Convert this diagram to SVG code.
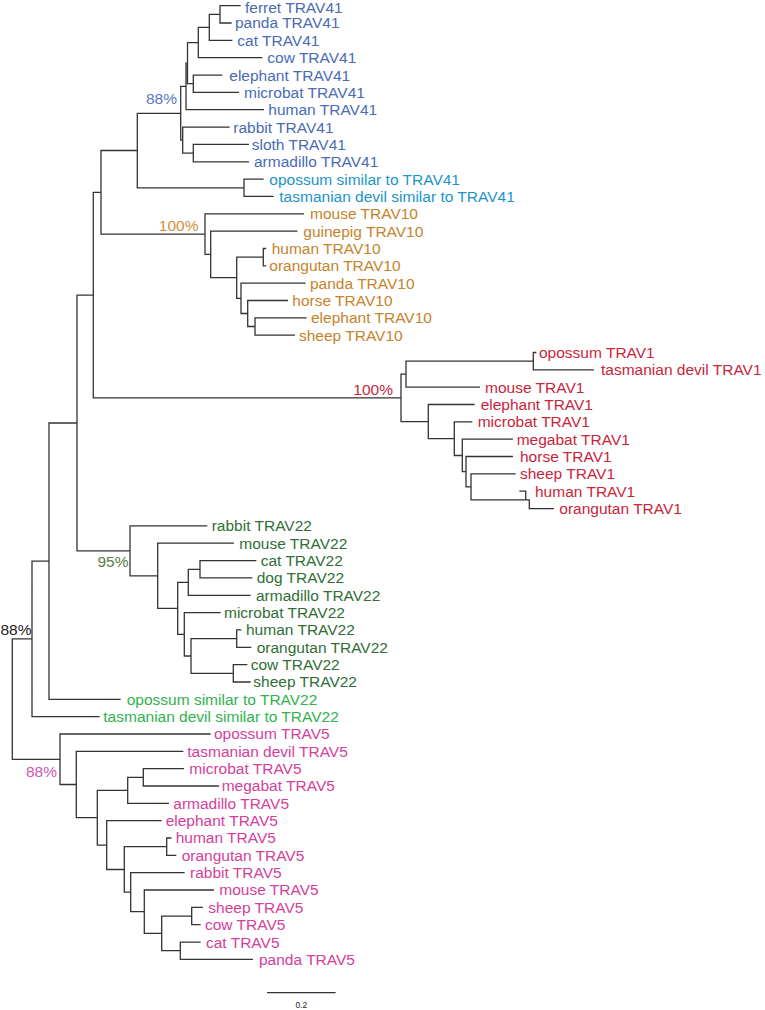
<svg xmlns="http://www.w3.org/2000/svg" width="765" height="1010" viewBox="0 0 765 1010">
<style>
text{font-family:"Liberation Sans",Arial,Helvetica,sans-serif;font-size:15.5px}
.b{fill:none;stroke:#333;stroke-width:1.3;stroke-linecap:square}
.t41{fill:#4a6bb5}.s41{fill:#1b95c9}.t10{fill:#c5832c}.t1{fill:#c9253a}
.t22{fill:#2f6e36}.s22{fill:#2fb34e}.t5{fill:#d4409a}
.bs{font-size:11.5px;text-anchor:end}
</style>
<rect width="765" height="1010" fill="#fff"/>
<g id="connectors">
<path class="b" d="
M12.3 638.9V759.3 M12.3 638.9H32 M12.3 759.3H60
M32 561.1V716.6 M32 561.1H49 M32 716.6H99
M49 423V699.3 M49 423H77 M49 699.3H120
M77 295.1V550.8 M77 295.1H93.3 M77 550.8H130
M93.3 192.3V397.9 M93.3 192.3H101 M93.3 397.9H401
M101 150.5V234.1 M101 150.5H137.3 M101 234.1H205
M137.3 113.3V187.8 M137.3 113.3H180.7 M137.3 187.8H244
M180.7 86.4V140.1 M180.7 86.4H186 M180.7 140.1H182.7
M186 63.1V109.7 M186 63.1H187.5 M186 109.7H263.3
M187.5 42.6V83.7 M187.5 42.6H198.3 M187.5 83.7H193.3
M198.3 27.4V57.7 M198.3 27.4H209.3 M198.3 57.7H261.7
M209.3 14.4V40.4 M209.3 14.4H220 M209.3 40.4H231.7
M220 5.7V23 M220 5.7H240 M220 23H231
M193.3 75.1V92.4 M193.3 75.1H221.7 M193.3 92.4H238.3
M182.7 127.1V153.1 M182.7 127.1H229 M182.7 153.1H193.3
M193.3 144.4V161.8 M193.3 144.4H248.3 M193.3 161.8H248.3
M244 179.1V196.4 M244 179.1H263 M244 196.4H273
M205 213.8V254.4 M205 213.8H303.3 M205 254.4H210.7
M210.7 231.1V277.7 M210.7 231.1H296.7 M210.7 277.7H236.7
M236.7 257.1V298.3 M236.7 257.1H263.3 M236.7 298.3H241
M263.3 248.5V265.8 M263.3 248.5H265.5 M263.3 265.8H265.5
M241 283.1V313.5 M241 283.1H305 M241 313.5H247.7
M247.7 300.5V326.5 M247.7 300.5H287.3 M247.7 326.5H255
M255 317.8V335.2 M255 317.8H306 M255 335.2H294.3
M401 374.2V421.6 M401 374.2H406 M401 421.6H428.3
M406 361.2V387.2 M406 361.2H533.3 M406 387.2H479.3
M533.3 352.5V369.8 M533.3 352.5H535.7 M533.3 369.8H593.3
M428.3 404.5V438.7 M428.3 404.5H474 M428.3 438.7H454.3
M454.3 421.9V455.5 M454.3 421.9H471.7 M454.3 455.5H462.3
M462.3 439.2V471.7 M462.3 439.2H512.3 M462.3 471.7H466
M466 456.5V486.9 M466 456.5H512.3 M466 486.9H471
M471 473.9V499.9 M471 473.9H515 M471 499.9H529.3
M525.7 491.2V499.9 M520 491.2H525.7 M529.3 499.9V508.6 M529.3 508.6H553.3
M130 525.9V575.8 M130 525.9H206.7 M130 575.8H157.7
M157.7 543.2V608.3 M157.7 543.2H233.3 M157.7 608.3H177.7
M177.7 582.3V634.3 M177.7 582.3H188.3 M177.7 634.3H184.3
M188.3 569.3V595.3 M188.3 569.3H200 M188.3 595.3H250
M200 560.6V577.9 M200 560.6H255.7 M200 577.9H251.7
M184.3 612.6V656 M184.3 612.6H220 M184.3 656H191
M191 638.6V673.3 M191 638.6H236.7 M191 673.3H233.3
M236.7 629.9V647.3 M236.7 629.9H240.7 M236.7 647.3H250.7
M233.3 664.6V682 M233.3 664.6H246.7 M233.3 682H250
M60 734V784.5 M60 734H210 M60 784.5H76.3
M76.3 751.3V817.7 M76.3 751.3H182.7 M76.3 817.7H97.3
M97.3 790.3V845.1 M97.3 790.3H127.7 M97.3 845.1H106.7
M127.7 777.3V803.3 M127.7 777.3H143.3 M127.7 803.3H168.3
M143.3 768.7V786 M143.3 768.7H183.3 M143.3 786H218.3
M106.7 820.7V869.5 M106.7 820.7H161 M106.7 869.5H124.3
M124.3 846.7V892.2 M124.3 846.7H166.7 M124.3 892.2H130.7
M166.7 838V855.4 M166.7 838H170.7 M166.7 855.4H175.7
M130.7 872.7V911.7 M130.7 872.7H184 M130.7 911.7H144.3
M144.3 890V933.4 M144.3 890H213.3 M144.3 933.4H161.7
M161.7 916.1V950.7 M161.7 916.1H191.7 M161.7 950.7H180.3
M191.7 907.4V924.7 M191.7 907.4H202.3 M191.7 924.7H200
M180.3 942.1V959.4 M180.3 942.1H200 M180.3 959.4H252.3
"/>
</g>
<g id="support-labels" class="bs">
<text x="177" y="104" fill="#5a78c0">88%</text>
<text x="198.5" y="231" fill="#d08f3a">100%</text>
<text x="393" y="394.5" fill="#c52a3a">100%</text>
<text x="128.5" y="566.7" fill="#5e7a45">95%</text>
<text x="0.5" y="634.7" fill="#222" style="text-anchor:start">88%</text>
<text x="57" y="777.3" fill="#d155b0">88%</text>
</g>
<g id="scale-bar">
<path class="b" d="M267.7 992.7H335"/>
<text x="301.3" y="1007.5" style="font-size:8.5px;text-anchor:middle" fill="#222">0.2</text>
</g>
<g id="trav41" class="t41">
<g id="n-ferret-trav41"><text x="245" y="12.6">ferret TRAV41</text></g>
<g id="n-panda-trav41"><text x="235" y="28.4">panda TRAV41</text></g>
<g id="n-cat-trav41"><text x="237.3" y="45.8">cat TRAV41</text></g>
<g id="n-cow-trav41"><text x="267.3" y="63.1">cow TRAV41</text></g>
<g id="n-elephant-trav41"><text x="229.3" y="80.5">elephant TRAV41</text></g>
<g id="n-microbat-trav41"><text x="244" y="97.8">microbat TRAV41</text></g>
<g id="n-human-trav41"><text x="268.3" y="115.1">human TRAV41</text></g>
<g id="n-rabbit-trav41"><text x="233.3" y="132.5">rabbit TRAV41</text></g>
<g id="n-sloth-trav41"><text x="251.7" y="149.8">sloth TRAV41</text></g>
<g id="n-armadillo-trav41"><text x="254" y="167.2">armadillo TRAV41</text></g>
</g>
<g id="sim41" class="s41">
<g id="n-opossum-sim41"><text x="269.3" y="184.5">opossum similar to TRAV41</text></g>
<g id="n-tasdevil-sim41"><text x="279.3" y="201.8">tasmanian devil similar to TRAV41</text></g>
</g>
<g id="trav10" class="t10">
<g id="n-mouse-trav10"><text x="310" y="219.2">mouse TRAV10</text></g>
<g id="n-guinepig-trav10"><text x="303.3" y="236.5">guinepig TRAV10</text></g>
<g id="n-human-trav10"><text x="271.7" y="253.9">human TRAV10</text></g>
<g id="n-orangutan-trav10"><text x="269.3" y="271.2">orangutan TRAV10</text></g>
<g id="n-panda-trav10"><text x="310" y="288.5">panda TRAV10</text></g>
<g id="n-horse-trav10"><text x="292.3" y="305.9">horse TRAV10</text></g>
<g id="n-elephant-trav10"><text x="311" y="323.2">elephant TRAV10</text></g>
<g id="n-sheep-trav10"><text x="299" y="340.6">sheep TRAV10</text></g>
</g>
<g id="trav1" class="t1">
<g id="n-opossum-trav1"><text x="539" y="357.9">opossum TRAV1</text></g>
<g id="n-tasdevil-trav1"><text x="601" y="375.2">tasmanian devil TRAV1</text></g>
<g id="n-mouse-trav1"><text x="485" y="392.6">mouse TRAV1</text></g>
<g id="n-elephant-trav1"><text x="480.7" y="409.9">elephant TRAV1</text></g>
<g id="n-microbat-trav1"><text x="477.7" y="427.3">microbat TRAV1</text></g>
<g id="n-megabat-trav1"><text x="516.7" y="444.6">megabat TRAV1</text></g>
<g id="n-horse-trav1"><text x="520" y="461.9">horse TRAV1</text></g>
<g id="n-sheep-trav1"><text x="520" y="479.3">sheep TRAV1</text></g>
<g id="n-human-trav1"><text x="535" y="496.6">human TRAV1</text></g>
<g id="n-orangutan-trav1"><text x="559.3" y="514">orangutan TRAV1</text></g>
</g>
<g id="trav22" class="t22">
<g id="n-rabbit-trav22"><text x="211.7" y="531.3">rabbit TRAV22</text></g>
<g id="n-mouse-trav22"><text x="239.3" y="548.6">mouse TRAV22</text></g>
<g id="n-cat-trav22"><text x="260.7" y="566">cat TRAV22</text></g>
<g id="n-dog-trav22"><text x="256.7" y="583.3">dog TRAV22</text></g>
<g id="n-armadillo-trav22"><text x="256" y="600.7">armadillo TRAV22</text></g>
<g id="n-microbat-trav22"><text x="224" y="618">microbat TRAV22</text></g>
<g id="n-human-trav22"><text x="246" y="635.3">human TRAV22</text></g>
<g id="n-orangutan-trav22"><text x="256.7" y="652.7">orangutan TRAV22</text></g>
<g id="n-cow-trav22"><text x="250.7" y="670">cow TRAV22</text></g>
<g id="n-sheep-trav22"><text x="253.3" y="687.4">sheep TRAV22</text></g>
</g>
<g id="sim22" class="s22">
<g id="n-opossum-sim22"><text x="126.7" y="704.7">opossum similar to TRAV22</text></g>
<g id="n-tasdevil-sim22"><text x="103.3" y="722">tasmanian devil similar to TRAV22</text></g>
</g>
<g id="trav5" class="t5">
<g id="n-opossum-trav5"><text x="214" y="739.4">opossum TRAV5</text></g>
<g id="n-tasdevil-trav5"><text x="187.3" y="756.7">tasmanian devil TRAV5</text></g>
<g id="n-microbat-trav5"><text x="189.3" y="774.1">microbat TRAV5</text></g>
<g id="n-megabat-trav5"><text x="221.7" y="791.4">megabat TRAV5</text></g>
<g id="n-armadillo-trav5"><text x="173.3" y="808.7">armadillo TRAV5</text></g>
<g id="n-elephant-trav5"><text x="165.7" y="826.1">elephant TRAV5</text></g>
<g id="n-human-trav5"><text x="175.7" y="843.4">human TRAV5</text></g>
<g id="n-orangutan-trav5"><text x="181.7" y="860.8">orangutan TRAV5</text></g>
<g id="n-rabbit-trav5"><text x="190" y="878.1">rabbit TRAV5</text></g>
<g id="n-mouse-trav5"><text x="219.3" y="895.4">mouse TRAV5</text></g>
<g id="n-sheep-trav5"><text x="208.3" y="912.8">sheep TRAV5</text></g>
<g id="n-cow-trav5"><text x="205" y="930.1">cow TRAV5</text></g>
<g id="n-cat-trav5"><text x="206" y="947.5">cat TRAV5</text></g>
<g id="n-panda-trav5"><text x="259" y="964.8">panda TRAV5</text></g>
</g>
</svg>
